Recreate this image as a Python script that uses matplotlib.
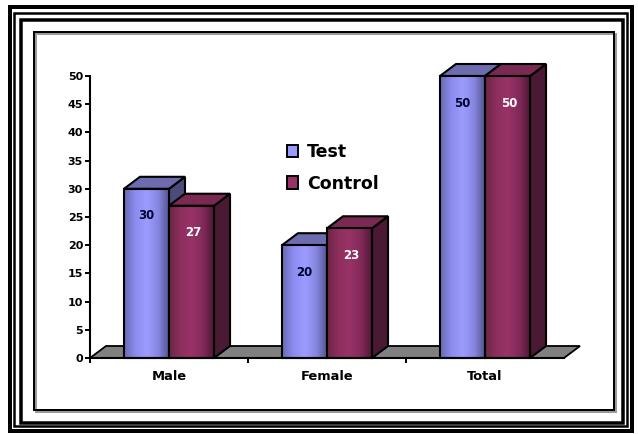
import numpy as np
import matplotlib
matplotlib.use("Agg")
import matplotlib.pyplot as plt
from matplotlib.patches import Rectangle, Polygon, Patch
from matplotlib.colors import LinearSegmentedColormap

# ---- data ----
categories = ["Male", "Female", "Total"]
series_names = ["Test", "Control"]
test_values = [30, 20, 50]
control_values = [27, 23, 50]
y_ticks = list(range(0, 55, 5))

# ---- style ----
W, H = 638, 434
DPI = 100
BAR_W = 0.285          # width of one bar in category units
DEPTH_PX = (16, 12)    # oblique depth offset in pixels
FONT = "DejaVu Sans"

front_grad = {
    "Test": ["#6a6ab2", "#8c8cf0", "#9c9cff", "#8686e0", "#50508c"],
    "Control": ["#6c2446", "#8e2f5e", "#993366", "#82295a", "#4a1630"],
}
side_col = {"Test": "#4b4b7c", "Control": "#4a1a34"}
top_col = {"Test": "#6c6cae", "Control": "#7a2a52"}
legend_col = {"Test": "#9999ff", "Control": "#993366"}
label_col = {"Test": "#000033", "Control": "#ffffff"}

fig = plt.figure(figsize=(W / DPI, H / DPI), dpi=DPI)
fig.patch.set_facecolor("white")


def fx(x):
    return x / W


def fy(y):
    return 1 - y / H


def frame(x0, y0, x1, y1, lw_px, color="black", z=0):
    r = Rectangle((fx(x0), fy(y1)), fx(x1) - fx(x0), fy(y0) - fy(y1),
                  transform=fig.transFigure, fill=False, edgecolor=color,
                  linewidth=lw_px * 72 / DPI, zorder=z)
    fig.patches.append(r)


# decorative page frame
frame(9.5, 6.5, 632, 431, 4)
frame(14, 13, 627, 426, 2.5)
frame(20.5, 19.5, 623, 423, 3.5)
frame(36, 34, 616, 412, 2, color="#9a9a9a")
frame(34, 32, 614, 410, 2)

ax = fig.add_axes([fx(90), fy(358), fx(564) - fx(90), fy(76) - fy(358)])
ax.set_xlim(-0.5, 2.5)
ax.set_ylim(0, 50)
ax.patch.set_alpha(0)

# depth offset in data units
fig.canvas.draw()
p0 = ax.transData.transform((0, 0))
q = ax.transData.inverted().transform(p0 + np.array(DEPTH_PX))
DX, DY = q[0], q[1]

x = np.arange(len(categories))

# floor
floor = Polygon([(-0.5, 0), (2.5, 0), (2.5 + DX, DY), (-0.5 + DX, DY)],
                closed=True, facecolor="#808080", edgecolor="black",
                linewidth=1.3, clip_on=False, zorder=1)
ax.add_patch(floor)

EDGE = dict(edgecolor="black", linewidth=1.5, clip_on=False)


def draw_bar(x0, h, name, z):
    x1 = x0 + BAR_W
    side = Polygon([(x1, 0), (x1 + DX, DY), (x1 + DX, h + DY), (x1, h)],
                   closed=True, facecolor=side_col[name], zorder=z, **EDGE)
    top = Polygon([(x0, h), (x0 + DX, h + DY), (x1 + DX, h + DY), (x1, h)],
                  closed=True, facecolor=top_col[name], zorder=z, **EDGE)
    ax.add_patch(side)
    ax.add_patch(top)
    clip = Rectangle((x0, 0), BAR_W, h, facecolor="none", edgecolor="none",
                     clip_on=False)
    ax.add_patch(clip)
    cmap = LinearSegmentedColormap.from_list(name, front_grad[name])
    grad = np.linspace(0, 1, 128).reshape(1, -1)
    im = ax.imshow(grad, cmap=cmap, extent=[x0, x1, 0, h], aspect="auto",
                   origin="lower", zorder=z + 0.1, interpolation="bilinear")
    im.set_clip_path(clip)
    outline = Rectangle((x0, 0), BAR_W, h, facecolor="none",
                        zorder=z + 0.2, **EDGE)
    ax.add_patch(outline)


for i, c in enumerate(x):
    draw_bar(c - BAR_W, test_values[i], "Test", 2 + i * 2)
    draw_bar(c, control_values[i], "Control", 3 + i * 2)
    ax.text(c - BAR_W / 2, test_values[i] - 4.8, f"{test_values[i]}",
            ha="center", va="center", fontsize=8.5, fontweight="bold",
            color=label_col["Test"], family=FONT, zorder=20)
    ax.text(c + BAR_W / 2 + 0.01, control_values[i] - 4.8,
            f"{control_values[i]}", ha="center", va="center", fontsize=8.5,
            fontweight="bold", color=label_col["Control"], family=FONT,
            zorder=20)

ax.set_xlim(-0.5, 2.5)
ax.set_ylim(0, 50)

# axes styling
for s in ["top", "right"]:
    ax.spines[s].set_visible(False)
ax.spines["left"].set_linewidth(1.5)
ax.spines["bottom"].set_linewidth(1.5)
ax.spines["left"].set_zorder(30)
ax.spines["bottom"].set_zorder(30)

ax.set_yticks(y_ticks)
ax.set_yticklabels([str(t) for t in y_ticks], fontsize=8, fontweight="bold",
                   family=FONT)
ax.tick_params(axis="y", direction="out", length=3.5, width=1.4, pad=1.5)

ax.set_xticks(x)
ax.set_xticklabels(categories, fontsize=9.4, fontweight="bold", family=FONT)
ax.tick_params(axis="x", which="major", length=0, pad=9)
ax.set_xticks([-0.5, 0.5, 1.5], minor=True)
ax.tick_params(axis="x", which="minor", direction="out", length=3.5, width=1.4)

handles = [Patch(facecolor=legend_col[n], edgecolor="black", linewidth=1.4)
           for n in series_names]
leg = fig.legend(handles, series_names, loc="upper left",
                 bbox_to_anchor=(fx(275), fy(131)), frameon=False,
                 prop={"family": FONT, "weight": "bold", "size": 12.5},
                 handlelength=0.65, handleheight=0.75, handletextpad=0.5,
                 labelspacing=0.78, borderpad=0.2)

fig.savefig("out.png", dpi=DPI)
